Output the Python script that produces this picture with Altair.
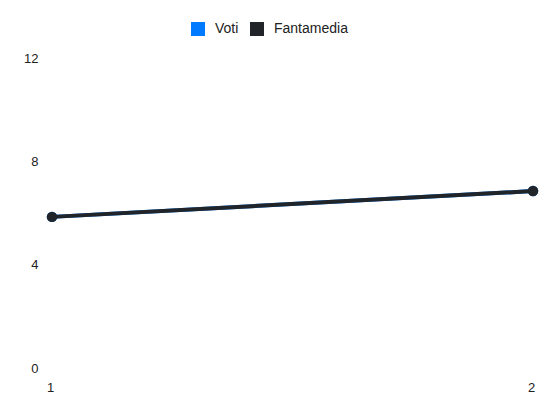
import altair as alt
import pandas as pd

giornate = [1, 2]
voti = [5.85, 6.85]
fantamedia = [5.85, 6.85]
series = ["Voti", "Fantamedia"]
colors = ["#007bff", "#212529"]
y_ticks = [0, 4, 8, 12]

df = pd.DataFrame({
    "giornata": giornate * 2,
    "valore": voti + fantamedia,
    "serie": ["Voti"] * len(giornate) + ["Fantamedia"] * len(giornate),
})

FONT = "Liberation Sans"

color = alt.Color(
    "serie:N",
    scale=alt.Scale(domain=series, range=colors),
    legend=alt.Legend(
        title=None, orient="none", direction="horizontal",
        legendX=139, legendY=-36,
        symbolType="square", symbolSize=196, symbolStrokeWidth=0,
        symbolOpacity=1,
        labelFont=FONT, labelFontSize=14, labelColor="#222",
        labelOffset=10, columnPadding=11,
    ),
)
x = alt.X("giornata:Q", scale=alt.Scale(domain=[1, 2], nice=False),
          axis=alt.Axis(values=giornate, title=None, grid=False, domain=False, ticks=False,
                        labelFlush=False, labelOverlap=False, labelOffset=-2,
                        labelPadding=13, labelFont=FONT, labelFontSize=13, labelColor="#222",
                        format="d"))
y = alt.Y("valore:Q", scale=alt.Scale(domain=[0, 12], nice=False),
          axis=alt.Axis(values=y_ticks, title=None, grid=False, domain=False, ticks=False,
                        labelPadding=14, labelFont=FONT, labelFontSize=13, labelColor="#222"))

layers = []
for s in series:
    base = alt.Chart(df).transform_filter(alt.datum.serie == s).encode(x=x, y=y, color=color)
    layers.append(base.mark_line(strokeWidth=4))
    layers.append(base.mark_point(filled=True, size=110, opacity=1))

chart = alt.layer(*layers).properties(
    width=481, height=310,
    autosize="none",
    padding={"left": 44, "top": 50, "right": 9, "bottom": 40},
).configure_view(stroke=None)

chart.save("out.html", embed_options={"renderer": "svg", "actions": False})
